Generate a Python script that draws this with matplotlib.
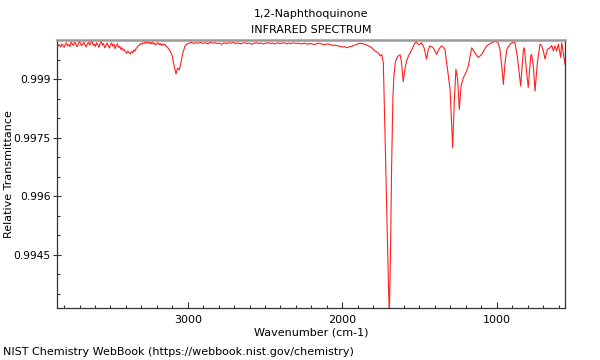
import matplotlib
matplotlib.use("Agg")
import matplotlib.pyplot as plt
from matplotlib.ticker import FixedLocator, MultipleLocator, FixedFormatter

title_lines = ["1,2-Naphthoquinone", "INFRARED SPECTRUM"]
x_label = "Wavenumber (cm-1)"
y_label = "Relative Transmittance"
credit = "NIST Chemistry WebBook (https://webbook.nist.gov/chemistry)"

# Wavenumber (cm-1) and depth below 1.0000 in units of 1e-5
wavenumber = [
    3846, 3838, 3830, 3822, 3815, 3807, 3800, 3792, 3785, 3777, 3770, 3762, 3755,
    3747, 3740, 3732, 3725, 3717, 3710, 3702, 3695, 3687, 3680, 3672, 3665, 3657,
    3650, 3642, 3635, 3627, 3620, 3612, 3605, 3597, 3590, 3582, 3575, 3567, 3560,
    3552, 3545, 3537, 3530, 3522, 3515, 3507, 3500, 3492, 3485, 3477, 3470, 3462,
    3455, 3447, 3440, 3432, 3425, 3417, 3410, 3402, 3395, 3387, 3380, 3372, 3365,
    3357, 3350, 3342, 3335, 3327, 3320, 3312, 3305, 3297, 3290, 3282, 3275, 3267,
    3260, 3252, 3245, 3237, 3230, 3222, 3215, 3207, 3200, 3192, 3185, 3177, 3170,
    3162, 3155, 3147, 3140, 3132, 3125, 3115,
    3102, 3089, 3076, 3066, 3054, 3043, 3030, 3017, 3005,
    2990, 2975, 2960, 2945, 2930, 2915, 2900, 2885, 2870, 2855, 2840, 2825, 2810,
    2795, 2780, 2765, 2750, 2735, 2720, 2705, 2690, 2675, 2660, 2645, 2630, 2615,
    2600, 2585, 2570, 2555, 2540, 2525, 2510, 2495, 2480, 2465, 2450, 2435, 2420,
    2405, 2390, 2375, 2360, 2345, 2330, 2315, 2300, 2285, 2270, 2255, 2240, 2225,
    2210, 2195, 2180, 2165, 2150, 2135, 2120, 2105, 2090, 2075, 2060, 2045, 2030,
    2015, 2000, 1985, 1971, 1950, 1928, 1905, 1885,
    1862, 1842, 1825, 1809, 1788, 1766, 1755, 1744, 1734,
    1723, 1710, 1700, 1695, 1688, 1680, 1672, 1665, 1655, 1645, 1635, 1625, 1617,
    1610, 1605, 1598, 1590, 1580, 1570, 1560, 1550, 1540, 1530, 1520, 1510, 1500,
    1487, 1470, 1454, 1443, 1432, 1411, 1389, 1372, 1356, 1335, 1313, 1302, 1285,
    1275, 1264, 1253, 1242, 1231, 1216, 1194, 1184, 1162, 1141, 1119, 1097, 1080,
    1065, 1032, 1011, 1000, 990, 979, 968, 957, 946, 935, 914, 893, 882, 867, 845,
    827, 821, 810, 796, 780, 774, 763, 752, 737, 720, 709, 698, 687, 672, 655, 644,
    633, 623, 612, 601, 586, 579, 569, 558,
]
depth_1e5 = [
    8, 15, 12, 18, 10, 14, 19, 11, 7, 15, 12, 17, 5,
    10, 14, 6, 9, 17, 13, 4, 8, 15, 10, 6, 12, 18,
    11, 5, 13, 8, 3, 14, 10, 17, 7, 12, 19, 9, 4,
    13, 9, 20, 15, 8, 14, 21, 12, 7, 16, 11, 22, 14,
    10, 19, 16, 24, 20, 27, 25, 31, 34, 28, 32, 36, 30,
    33, 26, 29, 22, 19, 15, 13, 9, 11, 7, 9, 5, 8,
    4, 9, 6, 10, 5, 11, 8, 13, 9, 7, 12, 9, 14,
    10, 13, 11, 16, 18, 22, 27,
    38, 64, 87, 72, 77, 56, 31, 15, 10,
    8, 6, 9, 7, 8, 6, 9, 7, 10, 6, 8, 7, 9,
    8, 11, 7, 9, 7, 8, 6, 9, 7, 10, 8, 7, 9,
    8, 11, 8, 7, 9, 8, 10, 8, 7, 9, 8, 10, 7,
    9, 8, 7, 10, 8, 9, 7, 9, 8, 10, 9, 8, 11,
    9, 10, 12, 9, 8, 10, 12, 11, 10, 12, 14, 13, 15,
    16, 18, 17, 20, 17, 15, 11, 8,
    10, 13, 16, 20, 28, 33, 41, 37, 58,
    240, 470, 640, 700, 560, 320, 150, 90, 55, 45, 40, 38, 55,
    85, 107, 85, 65, 50, 40, 33, 25, 17, 8, 5, 10, 12,
    7, 20, 49, 25, 15, 20, 37, 22, 15, 24, 92, 126, 276,
    161, 75, 101, 178, 118, 97, 79, 67, 20, 33, 45, 37, 25,
    15, 7, 3, 5, 8, 24, 64, 114, 58, 24, 11, 5, 7, 41, 118,
    24, 20, 67, 122, 41, 37, 67, 131, 58, 11, 15, 28, 49, 24, 20, 14,
    28, 15, 28, 11, 45, 7, 33, 62,
]
transmittance = [1.0 - d * 1e-5 for d in depth_1e5]

y_major = [0.9945, 0.996, 0.9975, 0.999]
y_major_labels = ["0.9945", "0.996", "0.9975", "0.999"]
x_major = [3000, 2000, 1000]
x_limits = (3846, 558)
y_limits = (0.99313, 1.0000)

fig = plt.figure(figsize=(6, 3.6), dpi=100)
ax = fig.add_axes([57 / 600, 1 - 308 / 360, (565 - 57) / 600, (308 - 40) / 360])
ax.plot(wavenumber, transmittance, color="#ff2020", lw=0.8)
ax.set_xlim(*x_limits)
ax.set_ylim(*y_limits)

ax.xaxis.set_major_locator(FixedLocator(x_major))
ax.xaxis.set_minor_locator(MultipleLocator(100))
ax.yaxis.set_major_locator(FixedLocator(y_major))
ax.yaxis.set_major_formatter(FixedFormatter(y_major_labels))
ax.yaxis.set_minor_locator(MultipleLocator(0.0005))

ax.tick_params(axis="x", which="major", direction="in", length=4, width=0.8,
               labelsize=8, pad=5, color="#333333")
ax.tick_params(axis="x", which="minor", direction="in", length=2.4, width=0.8,
               color="#333333")
ax.tick_params(axis="y", which="major", direction="inout", length=6, width=0.8,
               labelsize=7.7, pad=1.5, color="#333333")
ax.tick_params(axis="y", which="minor", direction="in", length=2.4, width=0.8,
               color="#333333")

for side in ["left", "bottom", "right"]:
    ax.spines[side].set_color("#333333")
    ax.spines[side].set_linewidth(0.9)
ax.spines["top"].set_color("#999999")
ax.spines["top"].set_linewidth(1.8)

ax.set_xlabel(x_label, fontsize=8, labelpad=2)
ax.set_ylabel(y_label, fontsize=8)
ax.yaxis.set_label_coords(-(57 - 14.5) / 508, 0.5)
ax.set_title("\n".join(title_lines), fontsize=8, pad=5, linespacing=1.8)

fig.text(3 / 600, 1 - 352 / 360, credit, fontsize=8, ha="left", va="center")

fig.savefig("out.png", dpi=100)
